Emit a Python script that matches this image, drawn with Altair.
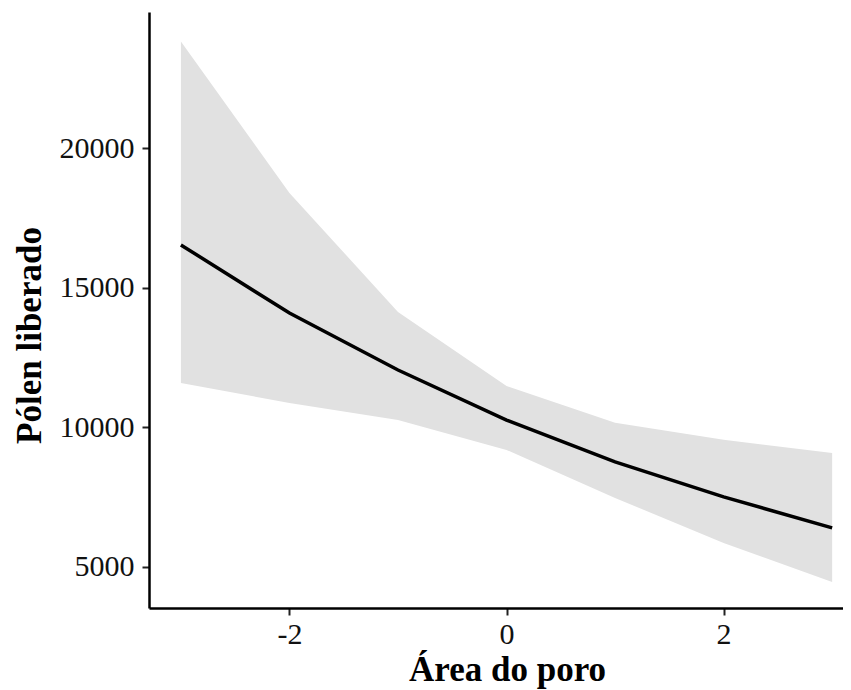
import altair as alt
import pandas as pd

area = [-3, -2, -1, 0, 1, 2, 3]
fit = [16530, 14090, 12050, 10260, 8760, 7510, 6400]
upper = [23810, 18390, 14130, 11480, 10160, 9550, 9080]
lower = [11590, 10870, 10260, 9190, 7470, 5860, 4460]

df = pd.DataFrame({"x": area, "fit": fit, "lo": lower, "hi": upper})

FONT = "Liberation Serif"
xscale = alt.Scale(domain=[-3.294, 3.10], nice=False, zero=False)
yscale = alt.Scale(domain=[3530, 24870], nice=False, zero=False)

xaxis = alt.Axis(
    title="Área do poro", values=[-2, 0, 2], grid=False,
    labelExpr="datum.value < 0 ? '-' + abs(datum.value) : '' + datum.value",
    titleFont=FONT, titleFontSize=35, titleFontWeight="bold", titleColor="black",
    titleBaseline="alphabetic", titleY=72, titleX=358, titleAnchor="middle", titleAlign="center",
    labelFont=FONT, labelFontSize=30, labelColor="#111", labelPadding=4,
    domainColor="black", domainWidth=2.5, tickColor="#222", tickWidth=2, tickSize=7,
)
yaxis = alt.Axis(
    title="Pólen liberado", values=[5000, 10000, 15000, 20000], grid=False, format="d",
    titleFont=FONT, titleFontSize=35, titleFontWeight="bold", titleColor="black",
    titleAngle=-90, titleBaseline="alphabetic", titleX=-109, titleY=323,
    titleAlign="center",
    labelFont=FONT, labelFontSize=30, labelColor="#111", labelPadding=8,
    domainColor="black", domainWidth=2.5, tickColor="#222", tickWidth=2, tickSize=7,
)

band = alt.Chart(df).mark_area(color="#e1e1e1", opacity=1).encode(
    x=alt.X("x:Q", scale=xscale, axis=xaxis),
    y=alt.Y("lo:Q", scale=yscale, axis=yaxis),
    y2="hi:Q",
)
line = alt.Chart(df).mark_line(color="black", strokeWidth=3.5).encode(
    x=alt.X("x:Q", scale=xscale),
    y=alt.Y("fit:Q", scale=yscale),
)

chart = (band + line).properties(
    width=694, height=596,
    background="white",
    autosize=alt.AutoSizeParams(type="none"),
    padding={"left": 141, "top": 4, "right": 0, "bottom": 82},
).configure_view(stroke=None, strokeWidth=0)

chart.save("out.html", embed_options={"renderer": "svg", "actions": False})
